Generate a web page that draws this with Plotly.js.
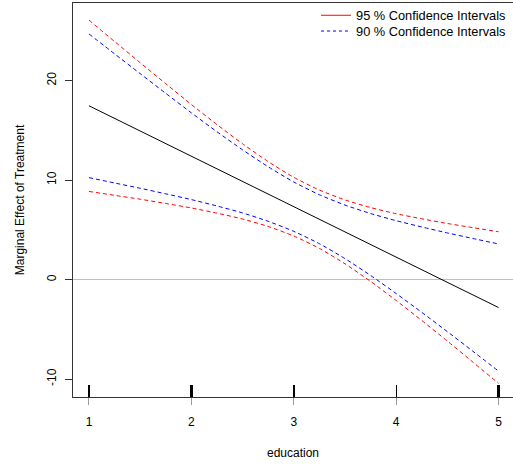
<!DOCTYPE html>
<html>
<head>
<meta charset="utf-8">
<script src="https://cdn.plot.ly/plotly-3.0.1.min.js"></script>
<style>
  html, body { margin: 0; padding: 0; background: #fff; }
  #chart { width: 513px; height: 465px; }
</style>
</head>
<body>
<div id="chart"></div>
<script>
// Marginal effect of treatment across education, with 95 % and 90 % bands
const education = [1, 1.25, 1.5, 1.75, 2, 2.25, 2.5, 2.75, 3, 3.25, 3.5, 3.75, 4, 4.25, 4.5, 4.75, 5];
const effect  = [17.47, 16.20, 14.94, 13.67, 12.40, 11.13, 9.87, 8.60, 7.33, 6.07, 4.80, 3.53, 2.26, 1.00, -0.27, -1.54, -2.81];
const upper95 = [26.08, 23.93, 21.80, 19.69, 17.60, 15.58, 13.65, 11.86, 10.28, 9.00, 8.01, 7.24, 6.62, 6.11, 5.64, 5.22, 4.81];
const lower95 = [8.86, 8.47, 8.08, 7.65, 7.20, 6.68, 6.09, 5.34, 4.38, 3.14, 1.59, -0.18, -2.10, -4.11, -6.18, -8.30, -10.43];
const upper90 = [24.69, 22.69, 20.70, 18.72, 16.76, 14.86, 13.04, 11.34, 9.81, 8.53, 7.49, 6.64, 5.92, 5.29, 4.69, 4.13, 3.58];
const lower90 = [10.25, 9.71, 9.18, 8.62, 8.04, 7.40, 6.70, 5.86, 4.85, 3.61, 2.11, 0.42, -1.40, -3.29, -5.23, -7.21, -9.20];

// axis ticks and the rug of observed education levels
const xTicks = [1, 2, 3, 4, 5];
const yTicks = [-10, 0, 10, 20];
const yTickText = ['-10', '0', '10', '20'];
const rugHeavy = [1, 2, 3, 5];
const rugLight = [4];

const legendLabels = ['95 % Confidence Intervals', '90 % Confidence Intervals'];

const FONT = 'Liberation Sans, Arial, Helvetica, sans-serif';
const RED = 'rgb(255,0,0)';
const BLUE = 'rgb(0,0,255)';
const DASH = '4px,3px';

function band(y, color) {
  return {
    x: education, y: y, type: 'scatter', mode: 'lines',
    line: { color: color, width: 1, dash: DASH, shape: 'spline', smoothing: 0.6 },
    showlegend: false, hoverinfo: 'skip'
  };
}

const traces = [
  band(upper95, RED), band(lower95, RED),
  band(upper90, BLUE), band(lower90, BLUE),
  {
    x: education, y: effect, type: 'scatter', mode: 'lines',
    line: { color: '#000000', width: 1 }, showlegend: false, hoverinfo: 'skip'
  },
  // legend keys, one per legend box
  { x: [null], y: [null], type: 'scatter', mode: 'lines', name: legendLabels[0],
    legend: 'legend', line: { color: RED, width: 1, dash: 'solid' }, marker: { color: RED } },
  { x: [null], y: [null], type: 'scatter', mode: 'lines', name: legendLabels[1],
    legend: 'legend2', line: { color: BLUE, width: 1, dash: '3px,3px' }, marker: { color: BLUE } },
  // carriers for the rug axes
  { x: [null], y: [null], xaxis: 'x2', showlegend: false, hoverinfo: 'skip' },
  { x: [null], y: [null], xaxis: 'x3', showlegend: false, hoverinfo: 'skip' }
];

const xRange = [0.844, 5.141];
const rugAxis = (vals, w) => ({
  overlaying: 'x', matches: 'x', range: xRange, anchor: 'y',
  tickmode: 'array', tickvals: vals, ticks: 'inside', ticklen: 12,
  tickwidth: w, tickcolor: '#000', showticklabels: false,
  showgrid: false, zeroline: false, showline: false
});

const legendBox = (yTop) => ({
  x: 0.9955, xanchor: 'right', y: yTop, yanchor: 'top',
  bgcolor: 'rgba(0,0,0,0)', borderwidth: 0,
  font: { family: FONT, size: 12.8, color: '#000' },
  tracegroupgap: 0
});

const layout = {
  width: 513, height: 465,
  margin: { l: 73, r: 0, t: 1, b: 68 },
  paper_bgcolor: '#ffffff', plot_bgcolor: '#ffffff',
  font: { family: FONT, size: 12, color: '#000' },
  showlegend: true,
  legend: legendBox(1.0065),
  legend2: legendBox(0.9665),
  xaxis: {
    range: xRange, tickmode: 'array', tickvals: xTicks,
    ticks: 'outside', ticklen: 7, tickwidth: 1, tickcolor: '#999',
    ticklabelstandoff: 7,
    showgrid: false, zeroline: false,
    showline: true, linecolor: '#333', linewidth: 1, mirror: true,
    tickfont: { family: FONT, size: 12, color: '#000' },
    title: { text: 'education', font: { family: FONT, size: 12, color: '#000' }, standoff: 20 },
    automargin: false
  },
  xaxis2: rugAxis(rugHeavy, 2.5),
  xaxis3: rugAxis(rugLight, 1),
  yaxis: {
    range: [-11.8, 27.8], tickmode: 'array', tickvals: yTicks, ticktext: yTickText,
    ticks: 'outside', ticklen: 7, tickwidth: 1, tickcolor: '#333', tickangle: -90,
    ticklabelstandoff: 4,
    showgrid: false,
    zeroline: true, zerolinecolor: '#bebebe', zerolinewidth: 1,
    showline: true, linecolor: '#333', linewidth: 1, mirror: true,
    tickfont: { family: FONT, size: 12, color: '#000' },
    title: { text: 'Marginal Effect of Treatment', font: { family: FONT, size: 12, color: '#000' }, standoff: 18 },
    automargin: false
  }
};

Plotly.newPlot('chart', traces, layout, { staticPlot: true, displayModeBar: false });
</script>
</body>
</html>
